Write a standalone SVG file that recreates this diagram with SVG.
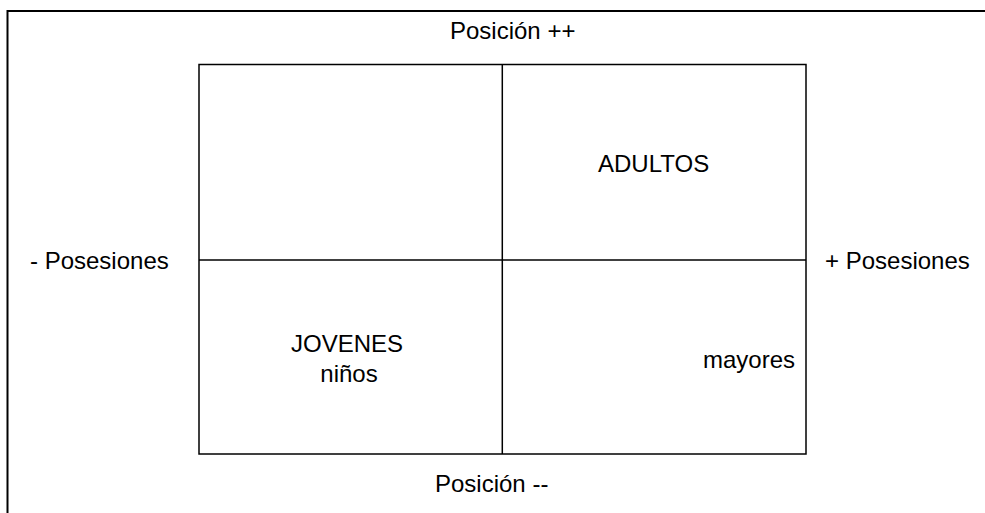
<svg xmlns="http://www.w3.org/2000/svg" width="985" height="513" viewBox="0 0 985 513">
<style>
text{font-family:"Liberation Sans",Arial,sans-serif;font-size:24px;fill:#000}
.frame{stroke:#000;stroke-width:2;fill:none}
.grid{stroke:#000;stroke-width:1.5;fill:none}
</style>
<rect width="985" height="513" fill="#fff"/>
<g id="frame">
<path class="frame" d="M7.5,513 V11 H985"/>
</g>
<g id="connectors">
<rect class="grid" x="199" y="64.5" width="607" height="389.5"/>
<line class="grid" x1="502.3" y1="64.5" x2="502.3" y2="454"/>
<line class="grid" x1="199" y1="260" x2="806" y2="260"/>
</g>
<g id="top-label"><text x="450" y="39">Posición ++</text></g>
<g id="bottom-label"><text x="435" y="491.5">Posición --</text></g>
<g id="left-label"><text x="30" y="269">- Posesiones</text></g>
<g id="right-label"><text x="825" y="269">+ Posesiones</text></g>
<g id="adultos"><text x="598" y="172">ADULTOS</text></g>
<g id="jovenes"><text x="347" y="352" text-anchor="middle">JOVENES</text><text x="349" y="382" text-anchor="middle">niños</text></g>
<g id="mayores"><text x="703" y="368">mayores</text></g>
</svg>
